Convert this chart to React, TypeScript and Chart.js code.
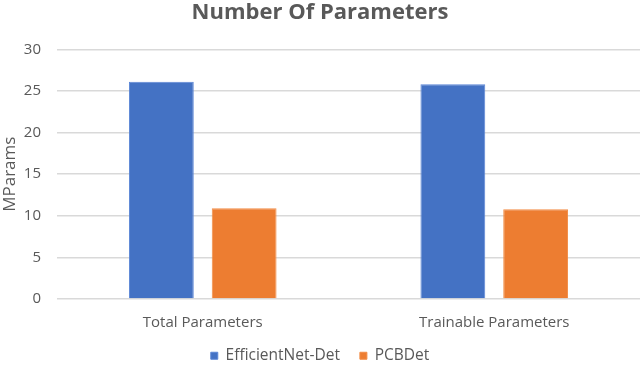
import React, { useEffect, useRef } from "react";
import { Chart, registerables } from "chart.js";

Chart.register(...registerables);

const categories = ["Total Parameters", "Trainable Parameters"];
const efficientNetDet = [26.1, 25.8];
const pcbDet = [10.9, 10.8];
const yTicks = [0, 5, 10, 15, 20, 25, 30];

const GRAY = "#595959";
const FONT = "'Open Sans', 'Liberation Sans', sans-serif";

export default function App() {
  const ref = useRef<HTMLCanvasElement | null>(null);
  useEffect(() => {
    document.body.style.margin = "0";
    const ctx = ref.current!;
    const chart = new Chart(ctx, {
      type: "bar",
      data: {
        labels: categories,
        datasets: [
          {
            label: "EfficientNet-Det",
            data: efficientNetDet,
            backgroundColor: "#4472C4",
            borderColor: "#5b86d6",
            borderWidth: 1,
            categoryPercentage: 0.568,
            barPercentage: 0.783,
          },
          {
            label: "PCBDet",
            data: pcbDet,
            backgroundColor: "#ED7D31",
            borderColor: "#f28c45",
            borderWidth: 1,
            categoryPercentage: 0.568,
            barPercentage: 0.783,
          },
        ],
      },
      options: {
        responsive: false,
        animation: false,
        layout: { padding: { left: 0, right: 0, top: 0, bottom: 0 } },
        plugins: {
          title: {
            display: true,
            text: "Number Of Parameters",
            color: GRAY,
            font: { family: FONT, size: 22, weight: "bold" },
            padding: { top: 0, bottom: 23 },
          },
          legend: {
            position: "bottom",
            maxHeight: 37,
            labels: {
              color: GRAY,
              font: { family: FONT, size: 15.5 },
              boxWidth: 7,
              boxHeight: 7,
              padding: 20,
            },
          },
          tooltip: { enabled: false },
        },
        scales: {
          x: {
            grid: { display: false, drawTicks: false },
            border: { display: false },
            ticks: { color: GRAY, font: { family: FONT, size: 15 }, padding: 15 },
            afterFit: (s: any) => {
              s.height = 29;
            },
          },
          y: {
            min: 0,
            max: 30,
            afterBuildTicks: (s: any) => {
              s.ticks = yTicks.map((v) => ({ value: v }));
            },
            grid: { color: "#d9d9d9", lineWidth: 1.5, drawTicks: false },
            border: { display: false },
            ticks: { color: GRAY, font: { family: FONT, size: 15 }, padding: 16 },
            title: {
              display: true,
              text: "MParams",
              color: GRAY,
              font: { family: FONT, size: 17 },
              padding: { top: 0, bottom: 0 },
            },
            afterFit: (s: any) => {
              s.width = 57;
            },
          },
        },
      },
    });
    return () => chart.destroy();
  }, []);
  return <canvas ref={ref} width={640} height={365} style={{ display: "block" }} />;
}
